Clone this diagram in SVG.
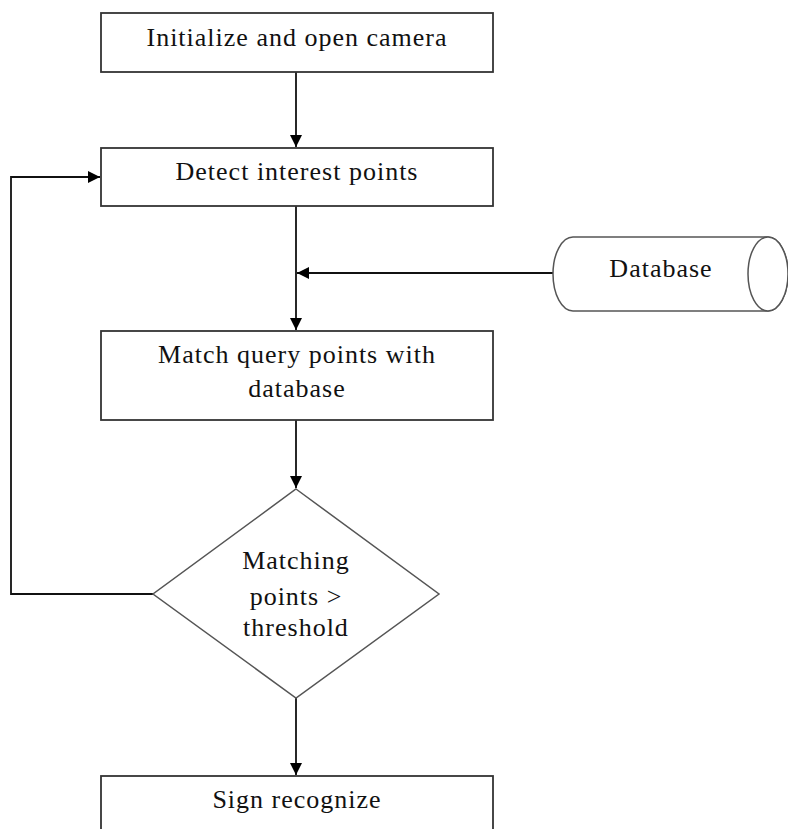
<svg xmlns="http://www.w3.org/2000/svg" width="788" height="829" viewBox="0 0 788 829">
  <style>
    .box { fill: #fff; stroke: #333; stroke-width: 1.8; }
    .dec { fill: #fff; stroke: #555; stroke-width: 1.5; }
    .wire { fill: none; stroke: #111; stroke-width: 1.8; }
    text { font-family: "Liberation Serif", "Times New Roman", serif; font-size: 26px; fill: #111; text-anchor: middle; letter-spacing: 1px; }
  </style>
  <defs>
    <!-- solid triangular arrowhead shared by all connectors -->
    <marker id="arrow" viewBox="0 0 12 12" refX="12" refY="6" markerWidth="12" markerHeight="12" markerUnits="userSpaceOnUse" orient="auto">
      <path d="M0,0 L12,6 L0,12 z" fill="#000"/>
    </marker>
  </defs>
  <rect width="788" height="829" fill="#fff"/>

  <!-- connectors -->
  <g id="connectors">
    <line class="wire" x1="296" y1="72" x2="296" y2="147" marker-end="url(#arrow)"/>
    <line class="wire" x1="296" y1="206" x2="296" y2="330" marker-end="url(#arrow)"/>
    <line class="wire" x1="553" y1="273" x2="297" y2="273" marker-end="url(#arrow)"/>
    <line class="wire" x1="296" y1="420" x2="296" y2="488" marker-end="url(#arrow)"/>
    <polyline class="wire" points="153,594 11,594 11,177 100,177" marker-end="url(#arrow)"/>
    <line class="wire" x1="296" y1="698" x2="296" y2="775" marker-end="url(#arrow)"/>
  </g>

  <g id="init">
    <rect class="box" x="101" y="13" width="392" height="59"/>
    <text x="297" y="46">Initialize and open camera</text>
  </g>

  <g id="detect">
    <rect class="box" x="101" y="148" width="392" height="58"/>
    <text x="297" y="180">Detect interest points</text>
  </g>

  <g id="database">
    <path class="dec" d="M573,237 H768 A20,37 0 0 1 768,311 H573 A20,37 0 0 1 573,237 Z"/>
    <ellipse class="dec" cx="768" cy="274" rx="20" ry="37"/>
    <text x="661" y="277">Database</text>
  </g>

  <g id="match">
    <rect class="box" x="101" y="331" width="392" height="89"/>
    <text x="297" y="363">Match query points with</text>
    <text x="297" y="397">database</text>
  </g>

  <g id="threshold">
    <polygon class="dec" points="296,489 439,594 296,698 153,594"/>
    <text x="296" y="569">Matching</text>
    <text x="296" y="605">points &gt;</text>
    <text x="296" y="636">threshold</text>
  </g>

  <g id="recognize">
    <rect class="box" x="101" y="776" width="392" height="80"/>
    <text x="297" y="808">Sign recognize</text>
  </g>
</svg>
